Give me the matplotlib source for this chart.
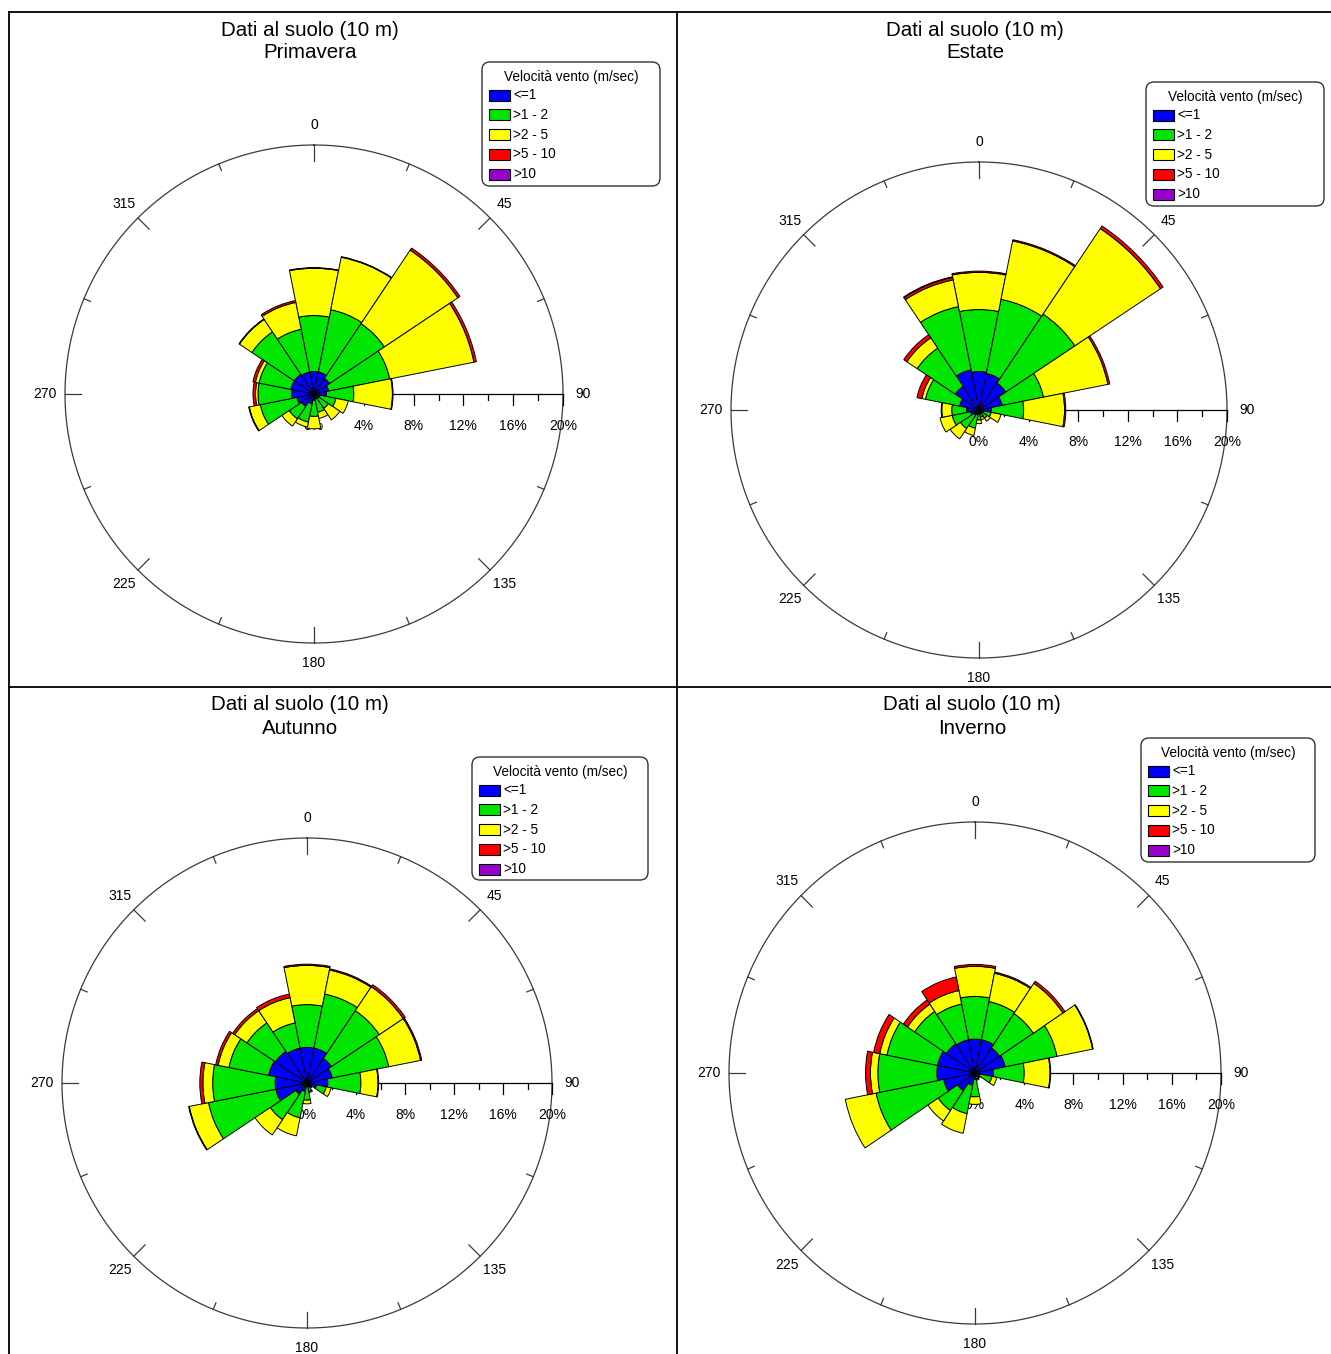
import numpy as np
import matplotlib
matplotlib.use('Agg')
import matplotlib.pyplot as plt
from matplotlib.patches import Rectangle, FancyBboxPatch

plt.rcParams['font.family'] = ['Liberation Sans', 'DejaVu Sans']

# ---------------- data ----------------
directions = [0, 22.5, 45, 67.5, 90, 112.5, 135, 157.5,
              180, 202.5, 225, 247.5, 270, 292.5, 315, 337.5]
speed_classes = ['<=1', '>1 - 2', '>2 - 5', '>5 - 10', '>10']
class_colors = ['#0000FF', '#00E600', '#FFFF00', '#FF0000', '#9900CC']
legend_title = 'Velocità vento (m/sec)'
main_title = 'Dati al suolo (10 m)'
seasons = ['Primavera', 'Estate', 'Autunno', 'Inverno']
angle_labels = [0, 45, 90, 135, 180, 225, 270, 315]
pct_labels = [0, 4, 8, 12, 16, 20]

# frequency (%) per direction, one list per speed class
prim_le1 = [1.8, 1.8, 1.5, 1.2, 1.0, 0.5, 0.4, 0.4, 0.5, 0.8, 1.2, 1.4, 1.8, 1.9, 1.9, 1.8]
prim_1_2 = [4.5, 5.1, 5.3, 5.0, 2.2, 1.3, 1.0, 1.1, 1.3, 1.5, 1.2, 3.0, 2.7, 2.6, 4.1, 3.5]
prim_2_5 = [3.8, 4.3, 7.1, 6.9, 3.1, 1.0, 1.1, 0.5, 1.0, 0.4, 0.7, 0.9, 0.2, 0.3, 1.2, 2.2]
prim_5_10 = [0.05, 0.05, 0.2, 0.2, 0.05, 0, 0, 0, 0, 0, 0, 0.05, 0.2, 0.2, 0.05, 0.15]
prim_gt10 = [0] * 16

est_le1 = [3.1, 3.0, 2.6, 1.9, 1.0, 0.4, 0.3, 0.3, 0.3, 0.4, 0.5, 0.7, 1.0, 1.6, 2.3, 3.3]
est_1_2 = [5.0, 6.1, 6.7, 3.4, 2.6, 0.6, 0.5, 0.3, 0.5, 1.1, 1.3, 1.5, 1.2, 2.8, 3.7, 5.2]
est_2_5 = [3.0, 4.8, 8.3, 5.3, 3.3, 0.8, 0.3, 0.2, 0.3, 0.6, 1.0, 1.0, 0.8, 0.3, 1.0, 2.2]
est_5_10 = [0.1, 0.1, 0.25, 0.15, 0.1, 0, 0, 0, 0, 0, 0, 0, 0.05, 0.4, 0.3, 0.2]
est_gt10 = [0, 0, 0, 0, 0, 0, 0, 0, 0, 0, 0, 0, 0, 0, 0, 0.05]

aut_le1 = [2.9, 2.9, 2.4, 2.1, 1.7, 0.8, 0.3, 0.3, 0.3, 0.7, 1.1, 2.6, 2.6, 3.2, 3.1, 2.9]
aut_1_2 = [3.5, 4.5, 4.7, 4.7, 2.7, 0.8, 0.1, 0.4, 1.1, 2.2, 2.5, 5.6, 5.1, 3.3, 2.8, 2.1]
aut_2_5 = [3.2, 2.0, 2.35, 2.65, 1.4, 0.4, 0.1, 0.1, 0.3, 1.5, 1.5, 1.6, 0.8, 0.9, 1.2, 2.1]
aut_5_10 = [0.1, 0.1, 0.2, 0.1, 0.05, 0, 0, 0, 0, 0, 0, 0.05, 0.25, 0.2, 0.2, 0.3]
aut_gt10 = [0] * 16

inv_le1 = [2.7, 2.7, 2.4, 2.5, 1.5, 0.4, 0.2, 0.3, 0.5, 1.0, 1.7, 2.6, 3.1, 3.1, 2.8, 2.7]
inv_1_2 = [3.4, 3.1, 3.3, 4.3, 2.5, 1.0, 0.2, 0.2, 1.4, 2.3, 1.9, 5.6, 4.8, 4.2, 3.1, 2.9]
inv_2_5 = [2.4, 2.3, 2.9, 2.95, 2.1, 0.4, 0.1, 0.1, 0.6, 1.6, 1.0, 2.55, 0.6, 0.6, 0.7, 1.1]
inv_5_10 = [0.15, 0.1, 0.2, 0.05, 0.05, 0, 0, 0, 0, 0, 0, 0, 0.4, 0.5, 0.4, 1.1]
inv_gt10 = [0] * 16

season_data = [
    [prim_le1, prim_1_2, prim_2_5, prim_5_10, prim_gt10],
    [est_le1, est_1_2, est_2_5, est_5_10, est_gt10],
    [aut_le1, aut_1_2, aut_2_5, aut_5_10, aut_gt10],
    [inv_le1, inv_1_2, inv_2_5, inv_5_10, inv_gt10],
]

# ---------------- layout (pixels) ----------------
W, H = 1331, 1354
RMAX = 20.0
panels = [
    dict(center=(314, 394), R=(249, 249), title=(310, 30), leg=(482, 62, 178, 124)),
    dict(center=(979, 410), R=(248, 248), title=(975, 30), leg=(1146, 82, 178, 124)),
    dict(center=(307, 1083), R=(245, 245), title=(300, 705), leg=(472, 757, 176, 123)),
    dict(center=(975, 1073), R=(246, 251), title=(972, 705), leg=(1141, 738, 174, 124)),
]

fig = plt.figure(figsize=(W / 100, H / 100), dpi=100)
fig.patch.set_facecolor('white')

bg = fig.add_axes([0, 0, 1, 1], zorder=0)
bg.set_xlim(0, W)
bg.set_ylim(H, 0)
bg.set_axis_off()

# frame lines
lw_frame = 1.3
bg.plot([9, W], [12, 12], color='black', lw=lw_frame)
bg.plot([9, 9], [12, H], color='black', lw=lw_frame)
bg.plot([677, 677], [12, H], color='black', lw=lw_frame)
bg.plot([9, W], [687, 687], color='black', lw=lw_frame)


def draw_legend(ax, x0, y0, w, h):
    box = FancyBboxPatch((x0, y0), w, h, boxstyle='round,pad=0,rounding_size=8',
                         facecolor='white', edgecolor='#333333', lw=1.0)
    ax.add_patch(box)
    ax.text(x0 + w / 2, y0 + 15, legend_title, ha='center', va='center', fontsize=9.8)
    for i, (lab, col) in enumerate(zip(speed_classes, class_colors)):
        yc = y0 + 33 + i * 19.8
        ax.add_patch(Rectangle((x0 + 7, yc - 5.5), 21, 11, facecolor=col,
                               edgecolor='black', lw=0.8))
        ax.text(x0 + 31, yc, lab, ha='left', va='center', fontsize=9.8)


for p, season, data in zip(panels, seasons, season_data):
    cx, cy = p['center']
    Rx, Ry = p['R']
    box = [(cx - Rx) / W, (H - (cy + Ry)) / H, 2 * Rx / W, 2 * Ry / H]
    pxx = Rx / RMAX  # pixels per percent (horizontal)
    pxy = Ry / RMAX  # pixels per percent (vertical)

    # titles and legend
    tx, ty = p['title']
    bg.text(tx, ty, main_title, ha='center', va='center', fontsize=14.8)
    bg.text(tx, ty + 23, season, ha='center', va='center', fontsize=14.8)
    draw_legend(bg, *p['leg'])

    # decoration axes (cartesian, % units)
    dax = fig.add_axes(box, zorder=1)
    dax.set_xlim(-RMAX, RMAX)
    dax.set_ylim(-RMAX, RMAX)
    dax.set_axis_off()
    t = np.linspace(0, 2 * np.pi, 721)
    dax.plot(RMAX * np.sin(t), RMAX * np.cos(t), color='#3a3a3a', lw=0.9, clip_on=False)
    for a in np.arange(0, 360, 22.5):
        if a == 90:
            continue
        L = (16 if a % 45 == 0 else 7) / pxx
        ar = np.deg2rad(a)
        dax.plot([(RMAX - L) * np.sin(ar), RMAX * np.sin(ar)],
                 [(RMAX - L) * np.cos(ar), RMAX * np.cos(ar)],
                 color='#3a3a3a', lw=0.9, clip_on=False)
    for a in angle_labels:
        ar = np.deg2rad(a)
        rr = 21.6
        dax.text(rr * np.sin(ar), rr * np.cos(ar), str(a), ha='center', va='center',
                 fontsize=10)
    # radial scale along east
    dax.plot([0, RMAX], [0, 0], color='black', lw=0.9, clip_on=False)
    for v in np.arange(2, 21, 2):
        L = (11 if v % 4 == 0 else 6) / pxy
        dax.plot([v, v], [0, -L], color='black', lw=0.9, clip_on=False)
    for v in pct_labels:
        dax.text(v, -32 / pxy, f'{v}%', ha='center', va='center', fontsize=10)

    # wind rose (polar)
    pax = fig.add_axes(box, projection='polar', zorder=2)
    pax.set_theta_zero_location('N')
    pax.set_theta_direction(-1)
    pax.set_ylim(0, RMAX)
    pax.set_aspect('auto')
    pax.set_axis_off()
    theta = np.deg2rad(directions)
    width = 2 * np.pi / len(directions)
    bottom = np.zeros(len(directions))
    for vals, col in zip(data, class_colors):
        vals = np.asarray(vals, dtype=float)
        m = vals > 0
        if m.any():
            pax.bar(theta[m], vals[m], width=width, bottom=bottom[m], color=col,
                    edgecolor='black', linewidth=0.7, align='center')
        bottom = bottom + vals

fig.savefig('out.png', dpi=100, facecolor='white')
